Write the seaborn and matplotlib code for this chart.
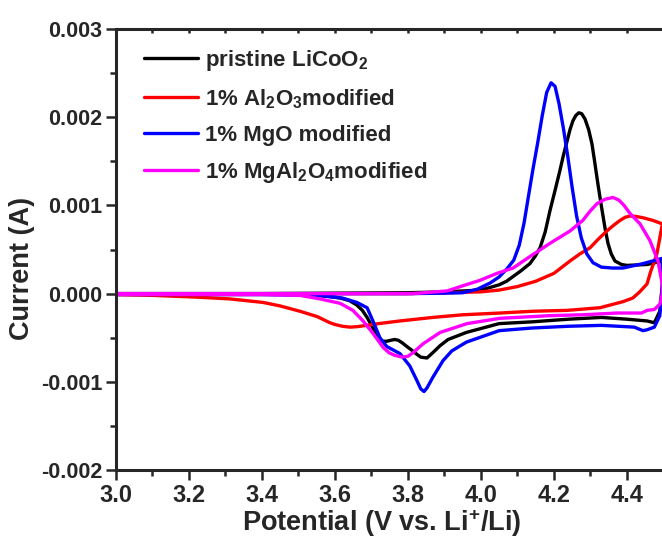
import numpy as np
import pandas as pd
import seaborn as sns
import matplotlib.pyplot as plt
from matplotlib.ticker import MultipleLocator

# CV loops: anodic sweep 3.0 -> 4.5 V, then cathodic 4.5 -> 3.0 V
# potential in V, current in mA (converted to A below)
pristine_v = [3.00, 3.20, 3.40, 3.60, 3.80, 3.90, 4.00, 4.05, 4.07, 4.09, 4.11, 4.134,
              4.148, 4.162, 4.176, 4.189, 4.203, 4.216, 4.226, 4.236, 4.244, 4.252, 4.260,
              4.268, 4.276, 4.285, 4.295, 4.304, 4.311, 4.318, 4.325, 4.332, 4.340, 4.348,
              4.357, 4.367, 4.385, 4.40, 4.455, 4.497,
              4.497, 4.49, 4.475, 4.455, 4.40, 4.33, 4.24, 4.14, 4.05, 3.96, 3.91, 3.888,
              3.868, 3.852, 3.835, 3.825, 3.81, 3.797, 3.785, 3.774, 3.764, 3.752, 3.742,
              3.729, 3.715, 3.70, 3.688, 3.675, 3.66, 3.64, 3.614, 3.58, 3.55, 3.50, 3.30,
              3.00]
pristine_i = [0.0, 0.0, 0.0, 0.005, 0.01, 0.02, 0.04, 0.10, 0.14, 0.20, 0.26, 0.34,
              0.42, 0.52, 0.70, 0.94, 1.17, 1.39, 1.57, 1.73, 1.86, 1.96, 2.02,
              2.05, 2.04, 1.98, 1.86, 1.70, 1.51, 1.31, 1.12, 0.94, 0.74, 0.57,
              0.45, 0.37, 0.33, 0.32, 0.33, 0.37,
              0.10, -0.20, -0.33, -0.31, -0.29, -0.27, -0.29, -0.32, -0.34, -0.44, -0.52, -0.59,
              -0.67, -0.73, -0.72, -0.69, -0.64, -0.60, -0.56, -0.53, -0.52, -0.53, -0.54,
              -0.54, -0.47, -0.36, -0.27, -0.19, -0.13, -0.08, -0.05, -0.03, -0.02, -0.01,
              -0.01, -0.01]

al2o3_v = [3.00, 3.40, 3.80, 3.90, 4.00, 4.05, 4.10, 4.15, 4.20, 4.244, 4.271, 4.299,
           4.322, 4.345, 4.365, 4.381, 4.395, 4.408, 4.425, 4.444, 4.471, 4.497,
           4.497, 4.482, 4.465, 4.455, 4.435, 4.416, 4.39, 4.326, 4.236, 4.142, 4.052,
           3.95, 3.868, 3.778, 3.72, 3.688, 3.66, 3.641, 3.62, 3.60, 3.586, 3.551, 3.504,
           3.45, 3.403, 3.312, 3.222, 3.10, 3.00]
al2o3_i = [0.0, 0.0, 0.0, 0.01, 0.02, 0.04, 0.08, 0.14, 0.23, 0.37, 0.45, 0.52,
           0.62, 0.71, 0.78, 0.83, 0.865, 0.88, 0.875, 0.86, 0.83, 0.79,
           0.79, 0.45, 0.25, 0.11, 0.02, -0.05, -0.09, -0.16, -0.19, -0.20, -0.22,
           -0.24, -0.27, -0.31, -0.34, -0.36, -0.375, -0.38, -0.37, -0.35, -0.33, -0.26,
           -0.20, -0.14, -0.10, -0.06, -0.04, -0.02, -0.01]

mgo_v = [3.00, 3.20, 3.40, 3.60, 3.80, 3.90, 3.95, 3.99, 4.025, 4.05, 4.071, 4.090,
         4.105, 4.118, 4.130, 4.142, 4.155, 4.168, 4.180, 4.192, 4.203, 4.214, 4.226,
         4.238, 4.250, 4.262, 4.275, 4.290, 4.307, 4.33, 4.36, 4.389, 4.444, 4.497,
         4.497, 4.49, 4.475, 4.455, 4.444, 4.42, 4.33, 4.24, 4.14, 4.05, 3.96, 3.92,
         3.896, 3.868, 3.852, 3.844, 3.835, 3.825, 3.805, 3.778, 3.76, 3.742, 3.723,
         3.704, 3.688, 3.66, 3.62, 3.55, 3.40, 3.00]
mgo_i = [0.0, 0.0, 0.0, 0.0, 0.0, 0.005, 0.01, 0.05, 0.12, 0.19, 0.28, 0.38,
         0.55, 0.80, 1.10, 1.40, 1.70, 2.02, 2.28, 2.39, 2.35, 2.15, 1.87,
         1.55, 1.20, 0.88, 0.63, 0.45, 0.35, 0.30, 0.29, 0.29, 0.34, 0.40,
         0.10, -0.25, -0.38, -0.41, -0.42, -0.38, -0.36, -0.37, -0.39, -0.42, -0.55, -0.65,
         -0.76, -0.95, -1.07, -1.11, -1.08, -0.99, -0.82, -0.68, -0.64, -0.60, -0.50,
         -0.31, -0.16, -0.10, -0.05, -0.02, -0.01, -0.01]

mgal2o4_v = [3.00, 3.40, 3.70, 3.814, 3.907, 3.951, 3.997, 4.044, 4.088, 4.134, 4.189,
             4.244, 4.279, 4.30, 4.318, 4.34, 4.362, 4.378, 4.392, 4.408, 4.436, 4.463,
             4.485, 4.497,
             4.497, 4.49, 4.475, 4.455, 4.44, 4.373, 4.279, 4.189, 4.052, 3.962, 3.888,
             3.841, 3.814, 3.80, 3.785, 3.764, 3.748, 3.732, 3.704, 3.677, 3.649, 3.614,
             3.559, 3.504, 3.40, 3.00]
mgal2o4_i = [0.0, 0.0, 0.0, 0.0, 0.03, 0.09, 0.15, 0.23, 0.29, 0.42, 0.57,
             0.71, 0.83, 0.94, 1.02, 1.07, 1.09, 1.06, 1.00, 0.91, 0.79, 0.60,
             0.37, 0.10,
             0.0, -0.12, -0.18, -0.19, -0.22, -0.22, -0.24, -0.25, -0.28, -0.34, -0.44,
             -0.57, -0.67, -0.71, -0.72, -0.70, -0.67, -0.61, -0.45, -0.31, -0.19, -0.11,
             -0.06, -0.02, -0.01, -0.01]

labels = ['pristine LiCoO$_2$', '1% Al$_2$O$_3$modified',
          '1% MgO modified', '1% MgAl$_2$O$_4$modified']
colors = ['#000000', '#ff0000', '#0000ff', '#ff00ff']

frames = []
for lab, v, i in zip(labels, [pristine_v, al2o3_v, mgo_v, mgal2o4_v],
                     [pristine_i, al2o3_i, mgo_i, mgal2o4_i]):
    d = pd.DataFrame({'V': v, 'I': np.array(i) * 1e-3})
    d['sample'] = lab
    frames.append(d)
df = pd.concat(frames, ignore_index=True)

sns.set_style('ticks')
plt.rcParams['font.family'] = ['Liberation Sans', 'DejaVu Sans']
plt.rcParams['font.weight'] = 'bold'
plt.rcParams['mathtext.fontset'] = 'custom'
plt.rcParams['mathtext.rm'] = 'Liberation Sans:bold'
plt.rcParams['mathtext.it'] = 'Liberation Sans:bold'
plt.rcParams['mathtext.bf'] = 'Liberation Sans:bold'
plt.rcParams['mathtext.default'] = 'rm'

fig = plt.figure(figsize=(6.62, 5.41), dpi=100)
ax = fig.add_axes([0.1752, 0.1312, 0.827, 0.8152])

sns.lineplot(data=df, x='V', y='I', hue='sample', palette=colors, sort=False,
             estimator=None, linewidth=2.4, ax=ax, legend=False)

ax.set_xlim(3.0, 4.5)
ax.set_ylim(-0.002, 0.003)
ax.xaxis.set_major_locator(MultipleLocator(0.2))
ax.xaxis.set_minor_locator(MultipleLocator(0.1))
ax.yaxis.set_major_locator(MultipleLocator(0.001))
ax.yaxis.set_minor_locator(MultipleLocator(0.0005))
ax.xaxis.set_major_formatter(plt.FormatStrFormatter('%.1f'))
ax.yaxis.set_major_formatter(plt.FormatStrFormatter('%.3f'))

for s in ax.spines.values():
    s.set_linewidth(2.2)
ax.tick_params(which='major', direction='out', length=7, width=1.8, pad=3)
ax.tick_params(which='minor', direction='out', length=4, width=1.8)
ax.tick_params(axis='x', labelsize=17)
ax.tick_params(axis='y', labelsize=15.5)

top = ax.secondary_xaxis('top')
top.xaxis.set_major_locator(MultipleLocator(0.1))
top.tick_params(direction='in', length=3, width=1.8, labeltop=False)

ax.set_xlabel('Potential (V vs. Li$^{+}$/Li)', fontsize=19.5, fontweight='bold')
ax.set_ylabel('Current (A)', fontsize=19.5, fontweight='bold')
ax.xaxis.set_label_coords(0.486, -0.084)
ax.yaxis.set_label_coords(-0.148, 0.456)

handles = [plt.Line2D([], [], color=c, lw=2.4) for c in colors]
ax.legend(handles, labels, loc='upper left', bbox_to_anchor=(0.051, 0.957),
          frameon=False, borderaxespad=0, borderpad=0, handlelength=2.45,
          handletextpad=0.3, labelspacing=0.64,
          prop={'size': 16, 'weight': 'bold'})

fig.savefig('out.png', dpi=100)
